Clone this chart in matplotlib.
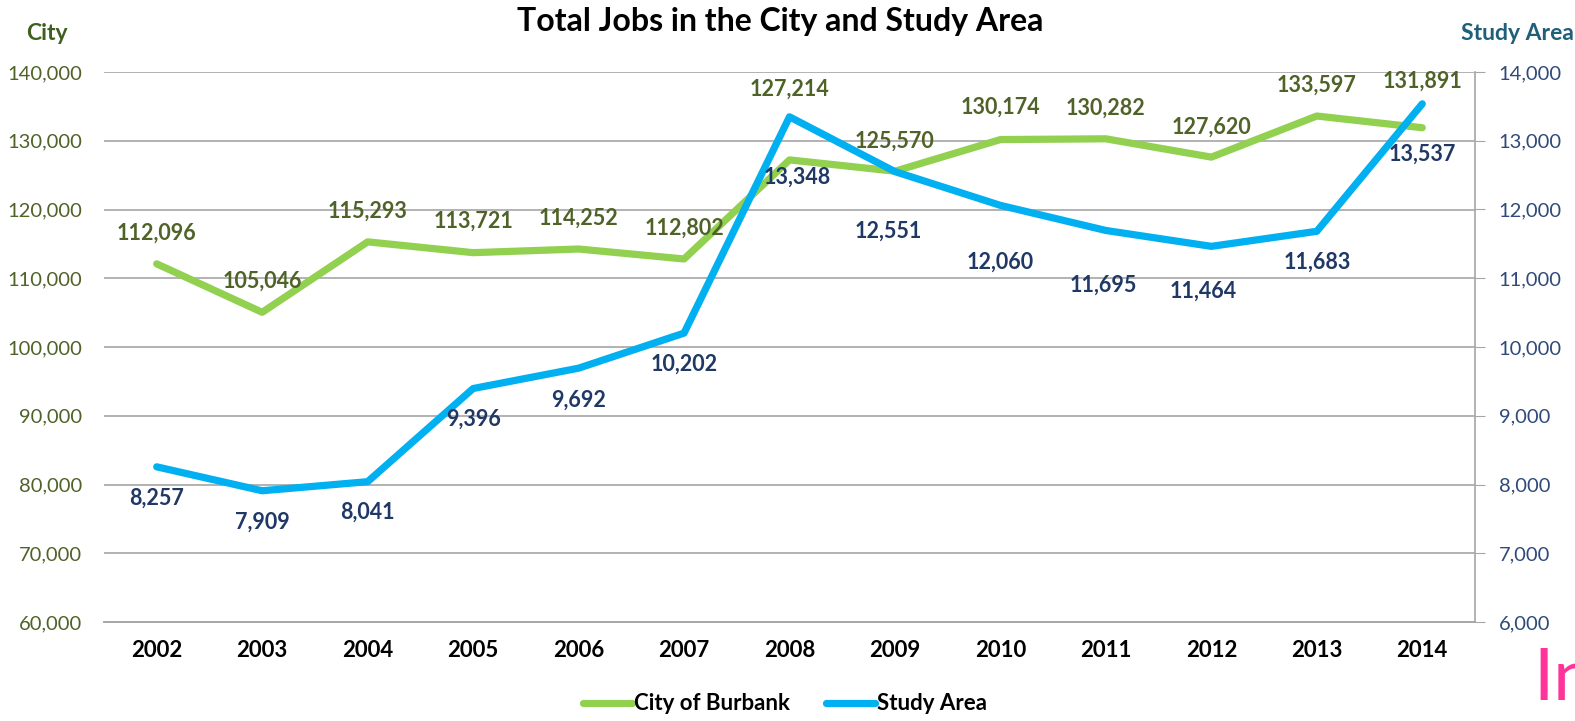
import matplotlib.pyplot as plt
from matplotlib.ticker import FuncFormatter

years = ['2002', '2003', '2004', '2005', '2006', '2007', '2008',
         '2009', '2010', '2011', '2012', '2013', '2014']
city_jobs = [112096, 105046, 115293, 113721, 114252, 112802, 127214,
             125570, 130174, 130282, 127620, 133597, 131891]
study_jobs = [8257, 7909, 8041, 9396, 9692, 10202, 13348,
              12551, 12060, 11695, 11464, 11683, 13537]

# data label offsets in pixels (the labels were nudged by hand in the original)
city_dy = [31, 31, 31, 31, 31, 31, 71, 30, 32, 31, 30, 31, 47]
study_dy = [-31, -31, -31, -31, -32, -31, -60, -60, -57, -55, -45, -31, -50]
study_dx = [0, 0, 0, 0, 0, 0, 8, -7, 0, -3, -8, 0, 0]

plt.rcParams['font.family'] = ['Lato', 'DejaVu Sans']

GREEN = '#92D050'
BLUE = '#00B0F0'
OLIVE = '#4F6228'
NAVY = '#1F3864'
GRID = '#A6A6A6'

fig = plt.figure(figsize=(15.75, 7.21), dpi=100)
ax = fig.add_axes([104 / 1575, 1 - 622 / 721, (1475 - 104) / 1575, (622 - 72) / 721])
ax2 = ax.twinx()

x = list(range(len(years)))
ax.plot(x, city_jobs, color=GREEN, lw=5.2, solid_capstyle='round', label='City of Burbank')
ax2.plot(x, study_jobs, color=BLUE, lw=5.2, solid_capstyle='round', label='Study Area')

ax.set_xlim(-0.5, len(years) - 0.5)
ax.set_ylim(60000, 140000)
ax.set_yticks(range(60000, 140001, 10000))
ax2.set_ylim(6000, 14000)
ax2.set_yticks(range(6000, 14001, 1000))
fmt = FuncFormatter(lambda v, p: f'{int(v):,}')
ax.yaxis.set_major_formatter(fmt)
ax2.yaxis.set_major_formatter(fmt)

ax.set_xticks(x)
ax.set_xticklabels(years, fontsize=16, fontweight='bold', color='black')
ax.tick_params(axis='x', length=0, pad=13)
ax.tick_params(axis='y', length=0, labelsize=14.5, labelcolor=OLIVE, pad=16)
ax2.tick_params(axis='y', length=7, color=GRID, labelsize=14.5, labelcolor='#2F4A7A', pad=10)

ax.grid(axis='y', color=GRID, lw=1.2)
ax.set_axisbelow(True)
for a in (ax, ax2):
    a.spines['top'].set_visible(False)
    a.spines['left'].set_visible(False)
    a.spines['right'].set_visible(False)
    a.spines['bottom'].set_color(GRID)
    a.spines['bottom'].set_linewidth(1.2)
ax2.spines['right'].set_visible(True)
ax2.spines['right'].set_color(GRID)
ax2.spines['right'].set_linewidth(1.2)

for xi, v, dy in zip(x, city_jobs, city_dy):
    ax.annotate(f'{v:,}', (xi, v), xytext=(0, dy), textcoords='offset pixels',
                ha='center', va='center', fontsize=15.5, fontweight='bold', color=OLIVE)
for xi, v, dx, dy in zip(x, study_jobs, study_dx, study_dy):
    ax2.annotate(f'{v:,}', (xi, v), xytext=(dx, dy), textcoords='offset pixels',
                 ha='center', va='center', fontsize=15.5, fontweight='bold', color=NAVY)

fig.text(780 / 1575, 1 - 22 / 721, 'Total Jobs in the City and Study Area',
         ha='center', va='center', fontsize=23, fontweight='bold', color='black')
fig.text(47 / 1575, 1 - 33 / 721, 'City', ha='center', va='center',
         fontsize=16.5, fontweight='bold', color='#3F5F1F')
fig.text(1461 / 1575, 1 - 33 / 721, 'Study Area', ha='left', va='center',
         fontsize=16.5, fontweight='bold', color='#1F5F7A')
fig.text(1533 / 1575, 1 - 700 / 721, 'In', ha='left', va='baseline',
         fontsize=52, color='#FF3399')

h1, l1 = ax.get_legend_handles_labels()
h2, l2 = ax2.get_legend_handles_labels()
fig.legend(h1 + h2, l1 + l2, loc='center', bbox_to_anchor=(785 / 1575, 1 - 704 / 721),
           ncol=2, frameon=False, prop={'size': 16, 'weight': 'bold'},
           handlelength=2.2, handletextpad=0.1, columnspacing=1.6)

fig.savefig('out.png', dpi=100)
